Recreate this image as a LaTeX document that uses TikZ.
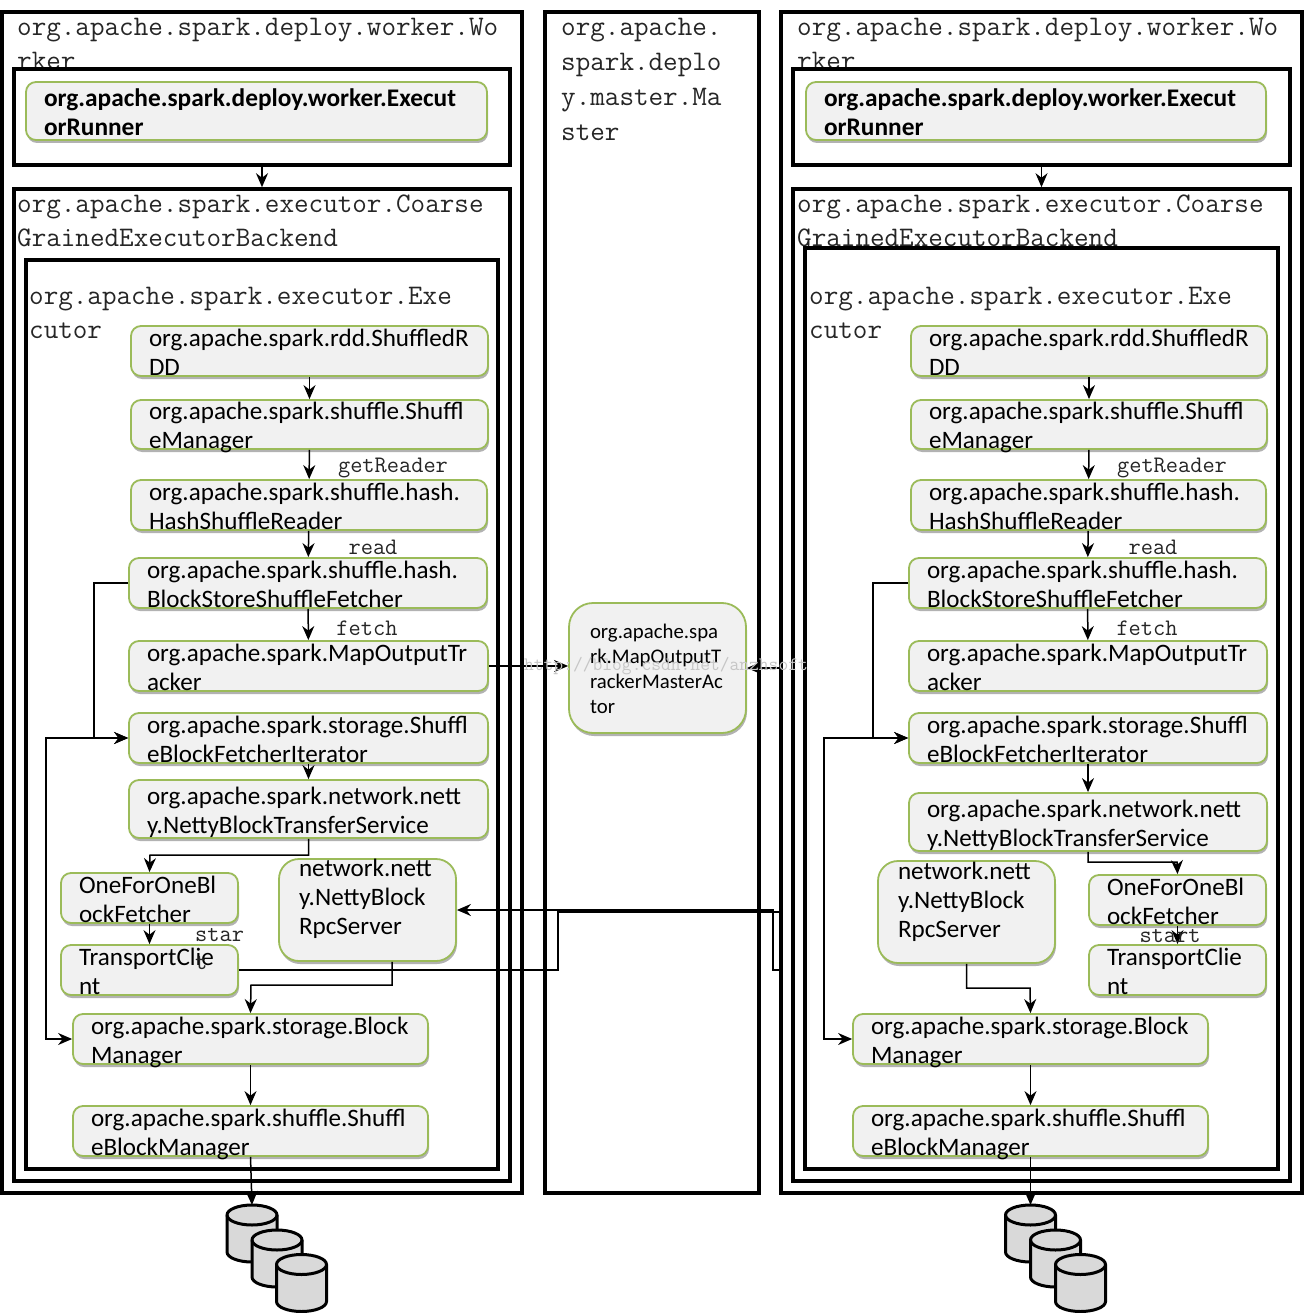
\documentclass[tikz,border=0pt]{standalone}
\usepackage{fontspec}
\setmainfont{Carlito}
\usepackage{tikz}
\usetikzlibrary{
		arrows.meta,
		positioning,
		shadows
	}
\definecolor{boxgreen}{HTML}{9BBB59}
\definecolor{boxgray}{HTML}{F1F1F1}
\definecolor{dbgray}{HTML}{D9D9D9}
\newcommand{\rows}[2][-10]{\smash{\raisebox{#1pt}{\begin{tabular}[c]{@{}l@{}}#2\end{tabular}}}}
\tikzset{
		>={Stealth[length=14pt,width=12pt]},
		frame/.style n args={2}{draw,fill=white,line width=3.6pt,inner sep=0pt,minimum width=#1,minimum height=#2},
		title/.style={anchor=north west,inner sep=0pt,align=left,text=black!85,font=\ttfamily\fontsize{28.3}{33.5}\selectfont},
		codebox/.style n args={2}{draw=boxgreen,fill=boxgray,line width=1.8pt,rounded corners=10pt,inner ysep=0pt,inner xsep=18pt,
			minimum width=#1,minimum height=#2,text width=#1-36pt,font=\fontsize{25.1}{29}\selectfont,
			drop shadow={shadow xshift=1pt,shadow yshift=-3pt,opacity=.3,fill=black}},
		rpcbox/.style={rounded corners=20pt,inner xsep=20pt,text width=137pt},
		steplabel/.style={inner sep=0pt,align=left,text=black!85,font=\ttfamily\fontsize{23.7}{28}\selectfont},
		link/.style={line width=1.5pt,line join=miter},
		disk/.pic={
			\draw[fill=dbgray,line width=3pt] (-25,-18.5) -- (-25,18.5) arc[start angle=180,end angle=360,x radius=25pt,y radius=10pt]
				-- (25,-18.5) arc[start angle=0,end angle=180,x radius=25pt,y radius=10pt] -- cycle;
			\draw[line width=3pt] (-25,-18.5) arc[start angle=180,end angle=360,x radius=25pt,y radius=10pt];
			\coordinate (-top) at (0,-28.5);
		}
	}
\begin{document}
\begin{tikzpicture}[x=1pt,y=-1pt]
          \useasboundingbox (0,0) rectangle (1314,1313);

          % left worker
          \node[frame={520}{1181}] (workerL) at (262,602.5) {};
          \node[title] (workerLtext) at (17,18.5) {org.apache.spark.deploy.worker.Wo\\rker};
          \node[frame={496}{96}] (runnerFrameL) at (262,117) {};
          \node[frame={496}{992}] (coarseL) at (262,685) {};
          \node[title] (coarseLtext) at (17,195) {org.apache.spark.executor.Coarse\\GrainedExecutorBackend};
          \node[frame={472}{909}] (execL) at (262,714.5) {};
          \node[title] (execLtext) at (29,287.5) {org.apache.spark.executor.Exe\\cutor};

          % master
          \node[frame={214}{1181}] (masterN) at (652,602.5) {};
          \node[title,font=\ttfamily\fontsize{28.3}{34.8}\selectfont] (masterNtext) at (561,18.5) {org.apache.\\spark.deplo\\y.master.Ma\\ster};

          % right worker
          \node[frame={521}{1181}] (workerR) at (1041.5,602.5) {};
          \node[title] (workerRtext) at (797,18.5) {org.apache.spark.deploy.worker.Wo\\rker};
          \node[frame={497}{96}] (runnerFrameR) at (1041.5,117) {};
          \node[frame={497}{992}] (coarseR) at (1041.5,685) {};
          \node[title] (coarseRtext) at (797,195) {org.apache.spark.executor.Coarse\\GrainedExecutorBackend};
          \node[frame={473}{921}] (execR) at (1041.5,708.5) {};
          \node[title] (execRtext) at (809,287.5) {org.apache.spark.executor.Exe\\cutor};

          % left boxes
          \node[codebox={461}{58},font=\bfseries\fontsize{25.35}{29}\selectfont] (runnerL) at (256.5,111) {\rows{org.apache.spark.deploy.worker.Execut\\orRunner}};
          \node[codebox={357}{50}] (rddL) at (309.5,351) {\rows{org.apache.spark.rdd.ShuffledR\\DD}};
          \node[codebox={357}{49}] (shufMgrL) at (309.5,424.5) {\rows{org.apache.spark.shuffle.Shuffl\\eManager}};
          \node[codebox={356}{50}] (hashL) at (309,505) {\rows{org.apache.spark.shuffle.hash.\\HashShuffleReader}};
          \node[codebox={358}{50}] (fetcherL) at (308,583) {\rows{org.apache.spark.shuffle.hash.\\BlockStoreShuffleFetcher}};
          \node[codebox={359}{50}] (mapL) at (308.5,666) {\rows{org.apache.spark.MapOutputTr\\acker}};
          \node[codebox={359}{50}] (iterL) at (308.5,738) {\rows{org.apache.spark.storage.Shuffl\\eBlockFetcherIterator}};
          \node[codebox={359}{58}] (nettyL) at (308.5,809) {\rows{org.apache.spark.network.nett\\y.NettyBlockTransferService}};
          \node[codebox={177}{50}] (oneL) at (149.5,898) {\rows{OneForOneBl\\ockFetcher}};
          \node[codebox={177}{50}] (transL) at (149.5,970) {\rows{TransportClie\\nt}};
          \node[codebox={177}{102},rpcbox] (rpcL) at (367.5,910) {\rows[4]{network.nett\\y.NettyBlock\\RpcServer}};
          \node[codebox={355}{50}] (blockL) at (250.5,1039) {\rows{org.apache.spark.storage.Block\\Manager}};
          \node[codebox={355}{50}] (shufBlockL) at (250.5,1131) {\rows{org.apache.spark.shuffle.Shuffl\\eBlockManager}};

          % tracker
          \node[codebox={177}{130},rounded corners=24pt,inner xsep=21pt,text width=135pt,font=\fontsize{20.8}{25}\selectfont] (tracker) at (657.5,668) {\rows[-8]{org.apache.spa\\rk.MapOutputT\\rackerMasterAc\\tor}};

          % right boxes
          \node[codebox={460}{58},font=\bfseries\fontsize{25.35}{29}\selectfont] (runnerR) at (1036,111) {\rows{org.apache.spark.deploy.worker.Execut\\orRunner}};
          \node[codebox={356}{50}] (rddR) at (1089,351) {\rows{org.apache.spark.rdd.ShuffledR\\DD}};
          \node[codebox={356}{49}] (shufMgrR) at (1089,424.5) {\rows{org.apache.spark.shuffle.Shuffl\\eManager}};
          \node[codebox={355}{50}] (hashR) at (1088.5,505) {\rows{org.apache.spark.shuffle.hash.\\HashShuffleReader}};
          \node[codebox={357}{50}] (fetcherR) at (1087.5,583) {\rows{org.apache.spark.shuffle.hash.\\BlockStoreShuffleFetcher}};
          \node[codebox={358}{50}] (mapR) at (1088,666) {\rows{org.apache.spark.MapOutputTr\\acker}};
          \node[codebox={358}{50}] (iterR) at (1088,738) {\rows{org.apache.spark.storage.Shuffl\\eBlockFetcherIterator}};
          \node[codebox={358}{58}] (nettyR) at (1088,822) {\rows{org.apache.spark.network.nett\\y.NettyBlockTransferService}};
          \node[codebox={177}{102},rpcbox] (rpcR) at (966.5,912) {\rows[3]{network.nett\\y.NettyBlock\\RpcServer}};
          \node[codebox={177}{50}] (oneR) at (1177.5,900) {\rows{OneForOneBl\\ockFetcher}};
          \node[codebox={177}{50}] (transR) at (1177.5,970) {\rows{TransportClie\\nt}};
          \node[codebox={355}{50}] (blockR) at (1030.5,1039) {\rows{org.apache.spark.storage.Block\\Manager}};
          \node[codebox={355}{50}] (shufBlockR) at (1030.5,1131) {\rows{org.apache.spark.shuffle.Shuffl\\eBlockManager}};

          % disks
          \pic (dbLa) at (252,1233.5) {disk};
          \pic (dbLb) at (277,1258.5) {disk};
          \pic (dbLc) at (301.5,1283) {disk};
          \pic (dbRa) at (1030.5,1233.5) {disk};
          \pic (dbRb) at (1055.5,1258.5) {disk};
          \pic (dbRc) at (1080.5,1283) {disk};

          % bends
          \coordinate (bendNettyL) at (150,855);
          \coordinate (bendRpcL) at (251,985);
          \coordinate (bendNettyR) at (1177,862);
          \coordinate (bendRpcR) at (1030,988);
          \coordinate (loopFetchL) at (94,660);
          \coordinate (loopIterL) at (46,900);
          \coordinate (loopFetchR) at (873,660);
          \coordinate (loopIterR) at (824,900);
          \coordinate (crossA) at (558,912);
          \coordinate (crossB) at (773,910);

          % left links
          \draw[link,->] (runnerFrameL) -- (coarseL);
          \draw[link,->] (rddL) -- (shufMgrL);
          \draw[link,->] (shufMgrL) -- (hashL);
          \draw[link,->] (hashL) -- (fetcherL);
          \draw[link,->] (fetcherL) -- (mapL);
          \draw[link,->] (iterL) -- (nettyL);
          \draw[link,->] (nettyL.south) |- (bendNettyL) -- (oneL.north);
          \draw[link,->] (oneL) -- (transL);
          \draw[link,->] (fetcherL.west) -| (loopFetchL) |- (iterL.west);
          \draw[link,<->] (iterL.west) -| (loopIterL) |- (blockL.west);
          \draw[link,->] ([xshift=24.5pt]rpcL.south) |- (bendRpcL) -- (blockL.north);
          \draw[link,->] (blockL) -- (shufBlockL);
          \draw[link,->] (shufBlockL.south) -- (dbLa-top);

          % right links
          \draw[link,->] (runnerFrameR) -- (coarseR);
          \draw[link,->] (rddR) -- (shufMgrR);
          \draw[link,->] (shufMgrR) -- (hashR);
          \draw[link,->] (hashR) -- (fetcherR);
          \draw[link,->] (fetcherR) -- (mapR);
          \draw[link,->] (iterR) -- (nettyR);
          \draw[link,->] (nettyR.south) |- (bendNettyR) -- (oneR.north);
          \draw[link,->] (oneR) -- (transR);
          \draw[link,->] (fetcherR.west) -| (loopFetchR) |- (iterR.west);
          \draw[link,<->] (iterR.west) -| (loopIterR) |- (blockR.west);
          \draw[link,->] (rpcR.south) |- (bendRpcR) -- (blockR.north);
          \draw[link,->] (blockR) -- (shufBlockR);
          \draw[link,->] (shufBlockR.south) -- (dbRa-top);

          % across the frames
          \draw[link,->] (mapL.east) -- (mapL.east -| tracker.west);
          \draw[link,->] (tracker.east -| workerR.west) -- (tracker.east);
          \draw[link] (transL.east) -| (crossA) -- (crossA -| workerR.west);
          \draw[link,->] (transL.east -| workerR.west) -| (crossB) -- (rpcL.east);

          % step labels
          \node[steplabel] (getReaderL) at (393,468) {getReader};
          \node[steplabel] (readL) at (373,547) {read};
          \node[steplabel] (fetchL) at (367,628) {fetch};
          \node[steplabel,anchor=north west] (startL) at (195,928) {star\\t};
          \node[steplabel] (getReaderR) at (1172,468) {getReader};
          \node[steplabel] (readR) at (1153,547) {read};
          \node[steplabel] (fetchR) at (1147,628) {fetch};
          \node[steplabel] (startR) at (1170,936) {start};

          \node[inner sep=0pt,text=gray!45,font=\ttfamily\fontsize{19}{19}\selectfont] (watermark) at (666,666) {http://blog.csdn.net/anzhsoft};

          \end{tikzpicture}
\end{document}
